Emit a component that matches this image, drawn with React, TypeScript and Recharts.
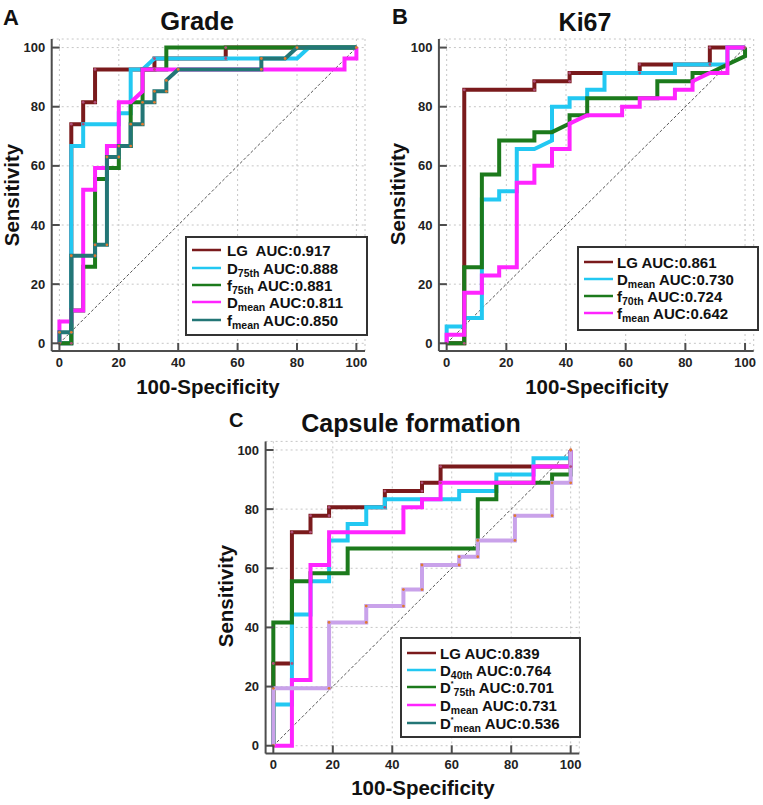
import { LineChart, Line, XAxis, YAxis, CartesianGrid } from 'recharts';

type Pt = [number, number];

const FONT = '"Liberation Sans", Arial, Helvetica, sans-serif';
const AXIS = '#4d4d4d';
const ticks = [0, 20, 40, 60, 80, 100];
const domain: [number, number] = [-2.6, 102.9];
const diagonal: Pt[] = [[0, 0], [100, 100]];

// A: Grade
const gradeLG: Pt[] = [[0, 0], [4, 0], [4, 74.1], [8, 74.1], [8, 81.5], [12, 81.5], [12, 92.6], [32, 92.6], [32, 96.3], [56, 96.3], [56, 100], [100, 100]];
const gradeD75: Pt[] = [[0, 0], [4, 0], [4, 66.7], [8, 66.7], [8, 74.1], [20, 74.1], [20, 77.8], [24, 77.8], [24, 92.6], [28, 92.6], [32, 96.3], [80, 96.3], [84, 100], [100, 100]];
const gradeF75: Pt[] = [[0, 0], [4, 0], [4, 11.1], [8, 11.1], [8, 25.9], [12, 25.9], [12, 55.6], [16, 55.6], [16, 59.3], [20, 59.3], [20, 66.7], [24, 66.7], [24, 81.5], [28, 81.5], [28, 92.6], [36, 92.6], [36, 100], [100, 100]];
const gradeDmean: Pt[] = [[0, 0], [0, 7.4], [4, 7.4], [4, 11.1], [8, 11.1], [8, 51.9], [12, 51.9], [12, 59.3], [16, 59.3], [16, 66.7], [20, 66.7], [20, 81.5], [24, 81.5], [28, 85.2], [28, 92.6], [96, 92.6], [96, 96.3], [100, 96.3], [100, 100]];
const gradeFmean: Pt[] = [[0, 0], [0, 3.7], [4, 3.7], [4, 29.6], [12, 29.6], [12, 33.3], [16, 33.3], [16, 63], [20, 63], [20, 66.7], [24, 66.7], [24, 74.1], [28, 74.1], [28, 81.5], [32, 81.5], [32, 85.2], [36, 85.2], [36, 88.9], [40, 92.6], [68, 92.6], [68, 96.3], [76, 96.3], [80, 100], [100, 100]];
const gradeNames = ['LG ', 'D', 'f', 'D', 'f'];
const gradeSubs = ['', '75th', '75th', 'mean', 'mean'];
const gradeAUC = ['0.917', '0.888', '0.881', '0.811', '0.850'];

// B: Ki67
const kiLG: Pt[] = [[0, 0], [5.9, 0], [5.9, 85.7], [29.4, 85.7], [29.4, 88.6], [41.2, 88.6], [41.2, 91.4], [64.7, 91.4], [64.7, 94.3], [88.2, 94.3], [88.2, 100], [100, 100]];
const kiDmean: Pt[] = [[0, 0], [0, 5.7], [5.9, 5.7], [5.9, 8.6], [11.8, 8.6], [11.8, 48.6], [17.6, 48.6], [17.6, 51.4], [23.5, 51.4], [23.5, 65.7], [29.4, 65.7], [35.3, 68.6], [35.3, 80], [41.2, 80], [41.2, 82.9], [47.1, 82.9], [47.1, 85.7], [52.9, 85.7], [52.9, 91.4], [76.5, 91.4], [76.5, 94.3], [94.1, 94.3], [94.1, 100], [100, 100]];
const kiF70: Pt[] = [[0, 0], [5.9, 0], [5.9, 25.7], [11.8, 25.7], [11.8, 57.1], [17.6, 57.1], [17.6, 68.6], [29.4, 68.6], [29.4, 71.4], [35.3, 71.4], [41.2, 74.3], [41.2, 77.1], [47.1, 77.1], [47.1, 82.9], [70.6, 82.9], [70.6, 88.6], [82.4, 88.6], [82.4, 91.4], [88.2, 91.4], [94.1, 94.3], [100, 97.1], [100, 100]];
const kiFmean: Pt[] = [[0, 0], [0, 2.9], [5.9, 2.9], [5.9, 17.1], [11.8, 17.1], [11.8, 22.9], [17.6, 22.9], [17.6, 25.7], [23.5, 25.7], [23.5, 54.3], [29.4, 54.3], [29.4, 60], [35.3, 60], [35.3, 65.7], [41.2, 65.7], [41.2, 74.3], [47.1, 77.1], [58.8, 77.1], [58.8, 80], [64.7, 80], [64.7, 82.9], [76.5, 82.9], [76.5, 85.7], [82.4, 85.7], [82.4, 88.6], [88.2, 91.4], [94.1, 91.4], [94.1, 100], [100, 100]];
const kiNames = ['LG', 'D', 'f', 'f'];
const kiSubs = ['', 'mean', '70th', 'mean'];
const kiAUC = ['0.861', '0.730', '0.724', '0.642'];

// C: Capsule formation
const capLG: Pt[] = [[0, 0], [0, 27.8], [6.25, 27.8], [6.25, 72.2], [12.5, 72.2], [12.5, 77.8], [18.75, 77.8], [18.75, 80.6], [37.5, 80.6], [37.5, 86.1], [50, 86.1], [50, 88.9], [56.25, 88.9], [56.25, 94.4], [100, 94.4], [100, 100]];
const capD40: Pt[] = [[0, 0], [0, 13.9], [6.25, 13.9], [6.25, 44.4], [12.5, 44.4], [12.5, 55.6], [18.75, 55.6], [18.75, 69.4], [25, 69.4], [25, 75], [31.25, 75], [31.25, 80.6], [37.5, 80.6], [37.5, 83.3], [62.5, 83.3], [62.5, 86.1], [75, 86.1], [75, 91.7], [87.5, 91.7], [87.5, 97.2], [100, 97.2], [100, 100]];
const capDs75: Pt[] = [[0, 0], [0, 41.7], [6.25, 41.7], [6.25, 55.6], [12.5, 55.6], [12.5, 58.3], [25, 58.3], [25, 66.7], [68.75, 66.7], [68.75, 83.3], [75, 83.3], [75, 88.9], [93.75, 88.9], [93.75, 91.7], [100, 91.7], [100, 100]];
const capDmean: Pt[] = [[0, 0], [6.25, 0], [6.25, 22.2], [12.5, 22.2], [12.5, 61.1], [18.75, 61.1], [18.75, 72.2], [43.75, 72.2], [43.75, 80.6], [50, 80.6], [50, 83.3], [56.25, 83.3], [56.25, 88.9], [87.5, 88.9], [87.5, 94.4], [100, 94.4], [100, 100]];
const capDsmean: Pt[] = [[0, 0], [0, 19.4], [18.75, 19.4], [18.75, 41.7], [31.25, 41.7], [31.25, 47.2], [43.75, 47.2], [43.75, 52.8], [50, 52.8], [50, 61.1], [62.5, 61.1], [62.5, 63.9], [68.75, 63.9], [68.75, 69.4], [81.25, 69.4], [81.25, 77.8], [93.75, 77.8], [93.75, 88.9], [100, 88.9], [100, 100]];
const capNames = ['LG', 'D', 'D', 'D', 'D'];
const capSups = ['', '', '*', '', '*'];
const capSubs = ['', '40th', '75th', 'mean', 'mean'];
const capAUC = ['0.839', '0.764', '0.701', '0.731', '0.536'];

const MAROON = '#7a1a1c';
const CYAN = '#22c8f2';
const GREEN = '#1c7a1c';
const MAGENTA = '#ff24ff';
const TEAL = '#237676';
const LAVENDER = '#c9a2ea';

const toRows = (pts: Pt[]) => pts.map(([x, y]) => ({ x, y }));

const XTick = (p: any) => (
  <g>
    <line x1={p.x} x2={p.x} y1={p.y} y2={p.y - 8} stroke={AXIS} strokeWidth={2} />
    <text x={p.x} y={p.y + 15.5} textAnchor="middle" fontFamily={FONT} fontWeight="bold" fontSize={13} fill="#222">
      {p.payload.value}
    </text>
  </g>
);

const YTick = (p: any) => (
  <g>
    <line x1={p.x} x2={p.x + 8} y1={p.y} y2={p.y} stroke={AXIS} strokeWidth={2} />
    <text x={p.x - 6.5} y={p.y + 4.6} textAnchor="end" fontFamily={FONT} fontWeight="bold" fontSize={13} fill="#222">
      {p.payload.value}
    </text>
  </g>
);

interface SeriesDef {
  pts: Pt[];
  color: string;
  dot?: string;
}

interface PanelProps {
  left: number;
  top: number;
  width: number;
  height: number;
  margin: { top: number; right: number; bottom: number; left: number };
  series: SeriesDef[];
}

function RocPanel({ left, top, width, height, margin, series }: PanelProps) {
  return (
    <div style={{ position: 'absolute', left, top }}>
      <LineChart width={width} height={height} margin={margin}>
        <CartesianGrid stroke="#c6c6c6" strokeDasharray="2 3" />
        <XAxis type="number" dataKey="x" domain={domain} ticks={ticks} allowDataOverflow interval={0}
          tickSize={0} tickMargin={0} height={30} axisLine={{ stroke: AXIS, strokeWidth: 2 }} tick={<XTick />} />
        <YAxis type="number" dataKey="y" domain={domain} ticks={ticks} allowDataOverflow interval={0}
          tickSize={0} tickMargin={0} width={45} axisLine={{ stroke: AXIS, strokeWidth: 2 }} tick={<YTick />} />
        <Line data={toRows(diagonal)} dataKey="y" type="linear" stroke="#555" strokeWidth={1}
          strokeDasharray="3 2" dot={false} activeDot={false} isAnimationActive={false} />
        {series.map((s, i) => (
          <Line key={i} data={toRows(s.pts)} dataKey="y" type="linear" stroke={s.color} strokeWidth={4}
            strokeLinejoin="miter" dot={s.dot ? { r: 1.4, fill: s.dot, stroke: 'none' } : false}
            activeDot={false} isAnimationActive={false} />
        ))}
      </LineChart>
    </div>
  );
}

interface LegendProps {
  x: number;
  y: number;
  w: number;
  h: number;
  rowY: number[];
  textX: number;
  names: string[];
  sups?: string[];
  subs: string[];
  aucs: string[];
  colors: string[];
}

function LegendBox({ x, y, w, h, rowY, textX, names, sups, subs, aucs, colors }: LegendProps) {
  return (
    <g>
      <rect x={x} y={y} width={w} height={h} fill="#fff" stroke="#333" strokeWidth={2} />
      {names.map((n, i) => {
        const cy = y + rowY[i];
        const sup = sups ? sups[i] : '';
        return (
          <g key={i}>
            <line x1={x + 6} x2={x + 35} y1={cy} y2={cy} stroke={colors[i]} strokeWidth={2.5} />
            <text x={x + textX} y={cy + 5.5} fontFamily={FONT} fontWeight="bold" fontSize={15} fill="#111"
              style={{ whiteSpace: 'pre' }}>
              <tspan>{n}</tspan>
              {sup ? <tspan fontSize={7} dy={-7}>{sup}</tspan> : null}
              {subs[i] ? <tspan fontSize={10.5} dy={sup ? 10.5 : 3.5}>{subs[i]}</tspan> : null}
              <tspan dy={subs[i] ? -3.5 : 0}>{' AUC:' + aucs[i]}</tspan>
            </text>
          </g>
        );
      })}
    </g>
  );
}

const T = { fontFamily: FONT, fontWeight: 'bold' as const, fill: '#111' };

export default function App() {
  return (
    <div style={{ position: 'absolute', left: 0, top: 0, width: 763, height: 805, background: '#fff' }}>
      <RocPanel left={0} top={0} width={380} height={400}
        margin={{ top: 39, right: 15, bottom: 19, left: 6.7 }}
        series={[
          { pts: gradeLG, color: MAROON, dot: '#b0507a' },
          { pts: gradeD75, color: CYAN },
          { pts: gradeF75, color: GREEN },
          { pts: gradeDmean, color: MAGENTA },
          { pts: gradeFmean, color: TEAL, dot: '#e07a30' },
        ]} />
      <RocPanel left={385} top={0} width={378} height={400}
        margin={{ top: 39, right: 9.3, bottom: 19, left: 8.9 }}
        series={[
          { pts: kiLG, color: MAROON, dot: '#b0507a' },
          { pts: kiDmean, color: CYAN },
          { pts: kiF70, color: GREEN },
          { pts: kiFmean, color: MAGENTA },
        ]} />
      <RocPanel left={190} top={400} width={400} height={405}
        margin={{ top: 41.4, right: 10.7, bottom: 21.6, left: 30.6 }}
        series={[
          { pts: capLG, color: MAROON, dot: '#b0507a' },
          { pts: capD40, color: CYAN },
          { pts: capDs75, color: GREEN },
          { pts: capDmean, color: MAGENTA },
          { pts: capDsmean, color: LAVENDER, dot: '#e07a30' },
        ]} />
      <svg width={763} height={805} style={{ position: 'absolute', left: 0, top: 0, pointerEvents: 'none' }}>
        <text x={3} y={25} fontSize={22} {...T}>A</text>
        <text x={197} y={30} fontSize={25.5} textAnchor="middle" {...T}>Grade</text>
        <text x={392} y={23.5} fontSize={22} {...T}>B</text>
        <text x={585} y={30.5} fontSize={25} textAnchor="middle" {...T}>Ki67</text>
        <text x={229} y={427} fontSize={20} {...T}>C</text>
        <text x={411} y={432} fontSize={25} textAnchor="middle" {...T}>Capsule formation</text>

        <text transform="translate(18.5,195) rotate(-90)" fontSize={20.5} textAnchor="middle" {...T}>Sensitivity</text>
        <text transform="translate(405,194) rotate(-90)" fontSize={20.5} textAnchor="middle" {...T}>Sensitivity</text>
        <text transform="translate(233,596) rotate(-90)" fontSize={20.5} textAnchor="middle" {...T}>Sensitivity</text>
        <text x={208} y={394} fontSize={20.5} textAnchor="middle" {...T}>100-Specificity</text>
        <text x={597} y={394} fontSize={20.5} textAnchor="middle" {...T}>100-Specificity</text>
        <text x={423} y={795} fontSize={20.5} textAnchor="middle" {...T}>100-Specificity</text>

        <LegendBox x={186} y={237} w={181} h={98} rowY={[13, 31, 48, 65, 83]} textX={41}
          names={gradeNames} subs={gradeSubs} aucs={gradeAUC}
          colors={[MAROON, CYAN, GREEN, MAGENTA, TEAL]} />
        <LegendBox x={578} y={247} w={180} h={83} rowY={[15, 32, 49, 66]} textX={39}
          names={kiNames} subs={kiSubs} aucs={kiAUC}
          colors={[MAROON, CYAN, GREEN, MAGENTA]} />
        <LegendBox x={401} y={638} w={179} h={99} rowY={[15, 32, 49, 67, 85]} textX={39}
          names={capNames} sups={capSups} subs={capSubs} aucs={capAUC}
          colors={[MAROON, CYAN, GREEN, MAGENTA, TEAL]} />
      </svg>
    </div>
  );
}
